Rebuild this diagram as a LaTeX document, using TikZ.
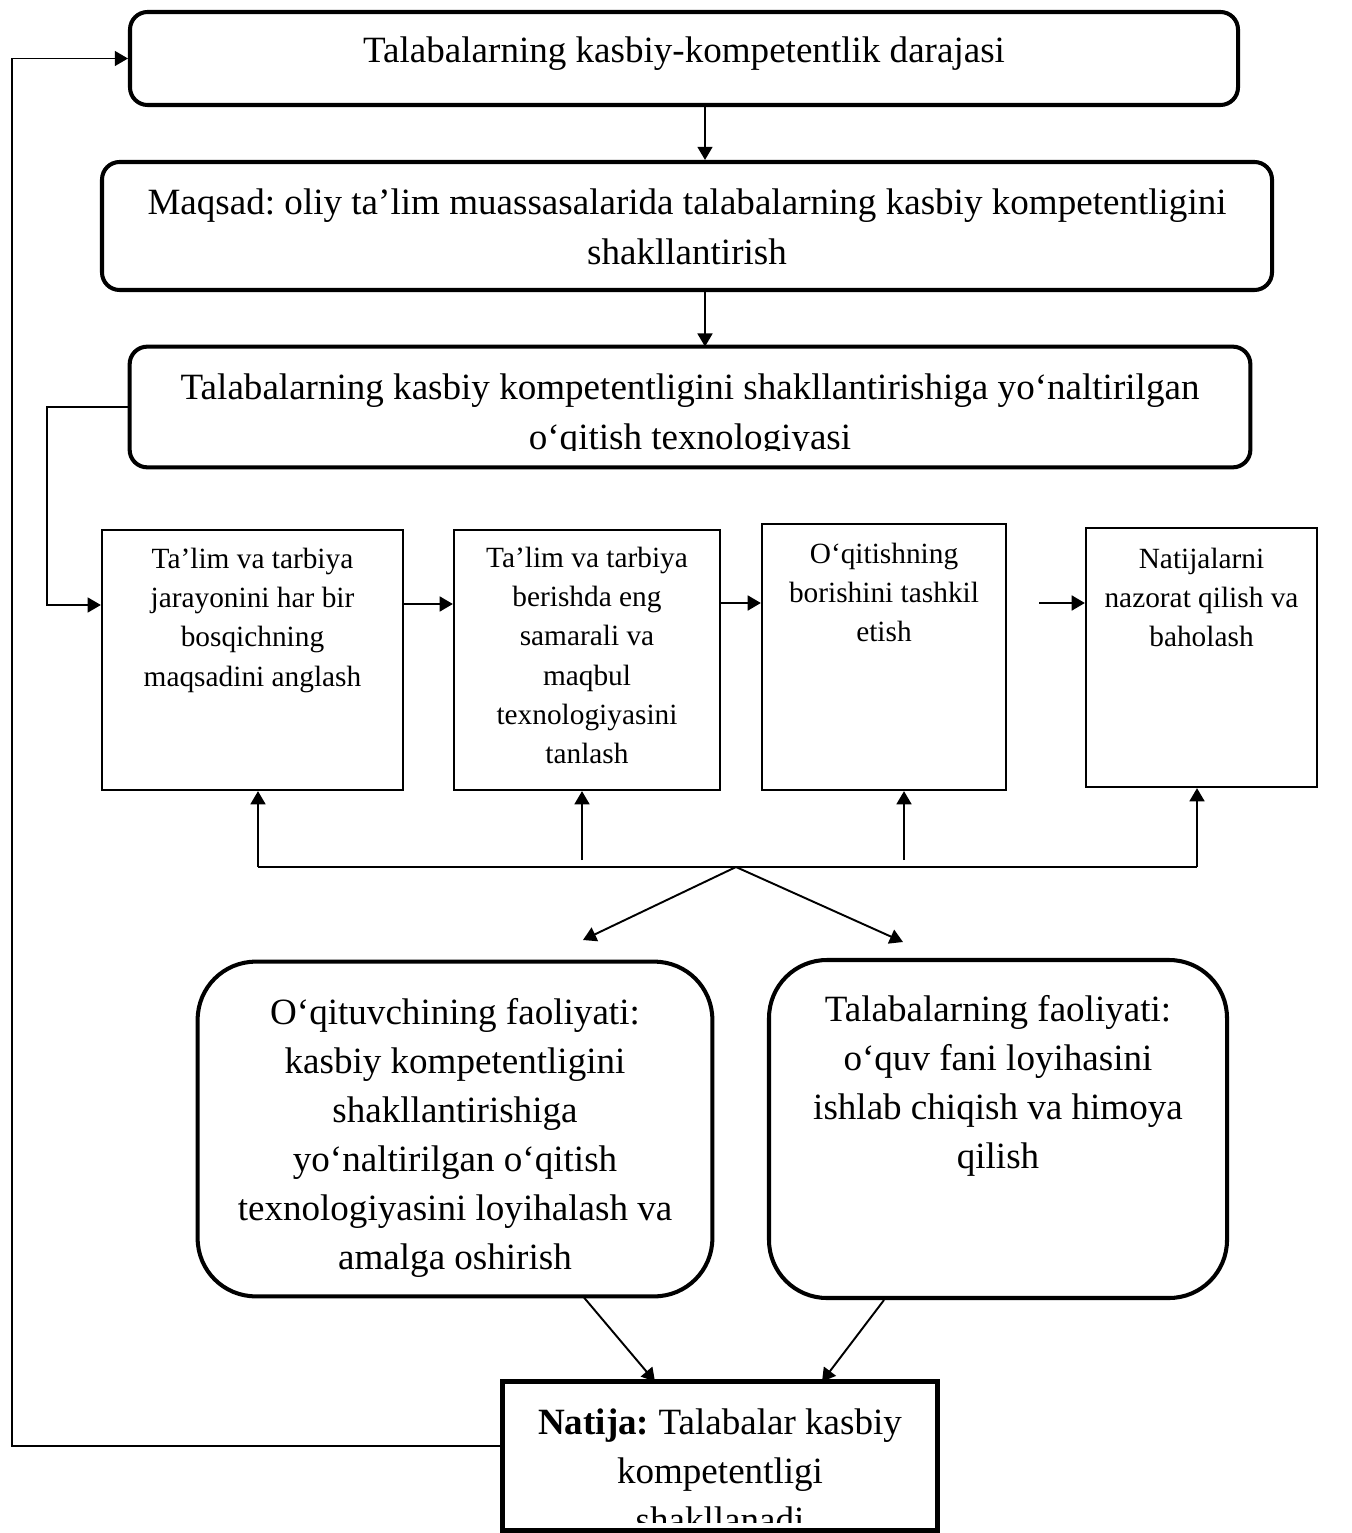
\documentclass[tikz,border=0pt]{standalone}
\usepackage{fontspec}
\setmainfont{Liberation Serif}
\usetikzlibrary{arrows.meta}
\frenchspacing
\newlength{\pxu}
\setlength{\pxu}{0.02cm}
\newcommand{\bigfont}{\fontsize{21.1}{28}\selectfont}
\newcommand{\smallfont}{\fontsize{16.7}{22.4}\selectfont}
% width, height, first baseline (all in px), text
\newcommand{\boxtext}[4]{\parbox[c][#2\pxu][t]{#1\pxu}{\centering\rule{0pt}{#3\pxu}#4}}
\tikzset{
    roundframe/.style={line width=2.3pt, rounded corners=10pt},
    bubbleframe/.style={line width=2.3pt, rounded corners=33pt},
    resultframe/.style={line width=2.8pt},
    roundbox/.style={draw, roundframe, inner sep=0pt, font=\bigfont},
    bubblebox/.style={draw, bubbleframe, inner sep=0pt, font=\bigfont},
    stepbox/.style={draw, line width=1.3pt, inner sep=0pt, font=\smallfont},
    plaintext/.style={inner sep=0pt, font=\bigfont},
    link/.style={->, > = {Triangle[length=7.5pt, width=8.5pt]}, line width=1.1pt},
    wire/.style={-, line width=1.1pt},
    feedback/.style={->, > = {Triangle[length=7.5pt, width=8.5pt]}, line width=0.9pt},
}

\begin{document}
\begin{tikzpicture}[x=0.02cm, y=-0.02cm]
    \useasboundingbox (0,0) rectangle (1351,1533);

    % top of the scheme
    \node[roundbox] (title) at (684,58.5) {\boxtext{1108}{93}{51}{Talabalarning kasbiy-kompetentlik darajasi}};
    \node[roundbox] (goal) at (687,226) {\boxtext{1170}{128}{53}{Maqsad: oliy ta’lim muassasalarida talabalarning kasbiy kompetentligini\\shakllantirish}};
    \begin{scope}
        \clip (130,347) rectangle (1250,451);
        \node[plaintext] (tech) at (690,407) {\boxtext{1120}{120}{53}{Talabalarning kasbiy kompetentligini shakllantirishiga yo‘naltirilgan\\o‘qitish texnologiyasi}};
    \end{scope}
    \draw[roundframe] (tech.south west) rectangle (tech.north east);

    % stages
    \node[stepbox] (stepA) at (252.5,660) {\boxtext{301}{260}{38}{Ta’lim va tarbiya\\jarayonini har bir\\bosqichning\\maqsadini anglash}};
    \node[stepbox] (stepB) at (587,660) {\boxtext{266}{260}{37}{Ta’lim va tarbiya\\berishda eng\\samarali va\\maqbul\\texnologiyasini\\tanlash}};
    \node[stepbox] (stepC) at (884,657) {\boxtext{244}{266}{39}{O‘qitishning\\borishini tashkil\\etish}};
    \node[stepbox] (stepD) at (1201.5,657.5) {\boxtext{231}{259}{40}{Natijalarni\\nazorat qilish va\\baholash}};

    % activities
    \begin{scope}
        \clip (198,962) rectangle (712,1279);
        \node[plaintext] (teacher) at (455,1129) {\boxtext{514}{334}{62}{O‘qituvchining faoliyati:\\kasbiy kompetentligini\\shakllantirishiga\\yo‘naltirilgan o‘qitish\\texnologiyasini loyihalash va\\amalga oshirish}};
    \end{scope}
    \draw[bubbleframe] (teacher.south west) rectangle (teacher.north east);
    \node[bubblebox] (student) at (998,1129) {\boxtext{458}{338}{61}{Talabalarning faoliyati:\\o‘quv fani loyihasini\\ishlab chiqish va himoya\\qilish}};

    % result
    \begin{scope}
        \clip (503,1382) rectangle (937,1522);
        \node[plaintext] (result) at (720,1456) {\boxtext{434}{148}{52}{\textbf{Natija:} Talabalar kasbiy\\kompetentligi\\shakllanadi}};
    \end{scope}
    \draw[resultframe] (result.south west) rectangle (result.north east);

    % main flow
    \draw[link] (title.south -| 705,0) -- (goal.north -| 705,0);
    \draw[link] (goal.south -| 705,0) -- (tech.north -| 705,0);
    \coordinate (bend) at (47,605);
    \draw[feedback] (tech.west) -| (bend) -- (bend -| stepA.west);

    \draw[link] (stepA.east |- 0,604) -- (stepB.west |- 0,604);
    \draw[link] (stepB.east |- 0,603) -- (stepC.west |- 0,603);
    \draw[link, shorten <=0.64cm] (stepC.east |- 0,603) -- (stepD.west |- 0,603);

    % bus under the stages
    \coordinate (busL) at (258,867);
    \coordinate (busR) at (1197,867);
    \coordinate (hub) at (736,867);
    \coordinate (tapB) at (582,860);
    \coordinate (tapC) at (904,860);
    \draw[wire] (busL) -- (busR);
    \draw[link] (busL) -- (busL |- stepA.south);
    \draw[link] (tapB) -- (tapB |- stepB.south);
    \draw[link] (tapC) -- (tapC |- stepC.south);
    \draw[link] (busR) -- (busR |- stepD.south);

    \coordinate (toTeacher) at (583,940);
    \coordinate (toStudent) at (903,942);
    \draw[link] (hub) -- (toTeacher);
    \draw[link] (hub) -- (toStudent);

    \draw[link] (teacher.south -| 583,0) -- (result.north -| 655,0);
    \draw[link] (student.south -| 884,0) -- (result.north -| 822,0);

    % back to the top
    \draw[feedback] (result.west |- 0,1446) -| (title.west -| 12,0) -- (title.west);
\end{tikzpicture}
\end{document}
